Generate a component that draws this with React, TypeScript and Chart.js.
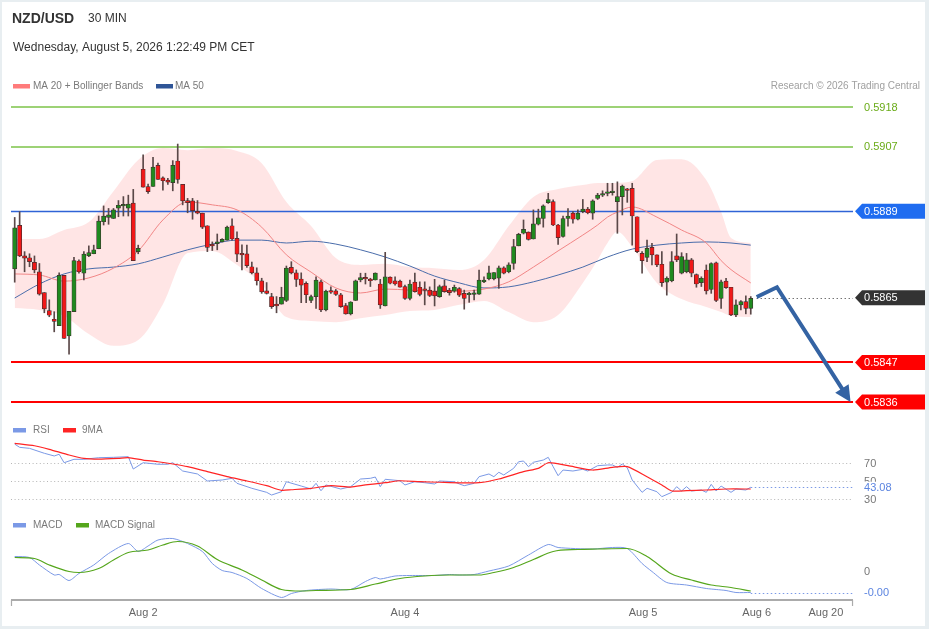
import React, { useEffect, useRef } from "react";
import { Chart, registerables } from "chart.js";

Chart.register(...registerables);

// ---------------- data ----------------
const OPEN = [
  0.5873, 0.58851, 0.58766, 0.58761, 0.58748, 0.58722, 0.58664, 0.58614, 0.5859, 0.58572,
  0.58712, 0.58544, 0.58611, 0.58752, 0.58718, 0.58766, 0.58772, 0.58786, 0.58861, 0.58873,
  0.5887, 0.58899, 0.58905, 0.58899, 0.58913, 0.58778, 0.59007, 0.58959, 0.58959, 0.59018,
  0.58983, 0.58977, 0.5897, 0.5903, 0.58965, 0.5892, 0.58919, 0.5889, 0.58885, 0.5885,
  0.58798, 0.588, 0.58805, 0.5881, 0.5885, 0.58815, 0.58773, 0.58772, 0.58736, 0.58719,
  0.58697, 0.58669, 0.58653, 0.58632, 0.58632, 0.58642, 0.58734, 0.58719, 0.58702, 0.5869,
  0.58642, 0.58653, 0.58694, 0.58616, 0.58668, 0.58669, 0.58658, 0.58628, 0.58605, 0.58642,
  0.58699, 0.58705, 0.58701, 0.58699, 0.58688, 0.58627, 0.58707, 0.58697, 0.58696, 0.58681,
  0.58648, 0.58693, 0.58679, 0.58673, 0.58671, 0.58668, 0.58653, 0.58683, 0.58671, 0.58668,
  0.58675, 0.58662, 0.58658, 0.58659, 0.5866, 0.58694, 0.58702, 0.58702, 0.58704, 0.58733,
  0.58722, 0.58745, 0.58794, 0.58829, 0.58832, 0.58813, 0.58854, 0.5887, 0.58914, 0.58917,
  0.58852, 0.5882, 0.5887, 0.58885, 0.58868, 0.58889, 0.58896, 0.58885, 0.58926, 0.58935,
  0.5894, 0.58942, 0.58917, 0.58931, 0.58951, 0.58954, 0.58875, 0.58773, 0.58762, 0.5879,
  0.58769, 0.58743, 0.58693, 0.58697, 0.58766, 0.58718, 0.58722, 0.58755, 0.58714, 0.58692,
  0.58727, 0.58673, 0.58747, 0.58648, 0.58696, 0.58679, 0.58602, 0.5863, 0.58639, 0.5862,
];
const HIGH = [
  0.58873, 0.58889, 0.58778, 0.58772, 0.58766, 0.58745, 0.58664, 0.58644, 0.58611, 0.58719,
  0.58712, 0.58612, 0.58762, 0.58755, 0.58778, 0.58794, 0.58796, 0.58877, 0.58905, 0.58898,
  0.58898, 0.5892, 0.58931, 0.58935, 0.58951, 0.58796, 0.59047, 0.58966, 0.5904, 0.59024,
  0.58986, 0.58982, 0.59031, 0.59077, 0.58965, 0.58926, 0.58926, 0.5892, 0.58885, 0.5885,
  0.58805, 0.58827, 0.58814, 0.58849, 0.58869, 0.58833, 0.58797, 0.58796, 0.58749, 0.58733,
  0.58704, 0.58692, 0.58662, 0.58653, 0.58679, 0.58738, 0.5875, 0.58727, 0.58719, 0.58694,
  0.58657, 0.58708, 0.58699, 0.58671, 0.5868, 0.58673, 0.58662, 0.58634, 0.58639, 0.58699,
  0.58718, 0.58718, 0.58704, 0.58719, 0.58701, 0.58776, 0.58708, 0.58708, 0.58699, 0.58685,
  0.58699, 0.58718, 0.58694, 0.58694, 0.5868, 0.58701, 0.58685, 0.58699, 0.58676, 0.58685,
  0.58678, 0.58671, 0.58665, 0.58671, 0.58727, 0.58708, 0.58738, 0.5872, 0.58738, 0.58736,
  0.58747, 0.58812, 0.58829, 0.58866, 0.58833, 0.58894, 0.58896, 0.58908, 0.5894, 0.58922,
  0.58854, 0.58877, 0.58898, 0.58889, 0.58894, 0.58923, 0.58901, 0.58922, 0.5894, 0.58947,
  0.58968, 0.58968, 0.58972, 0.58963, 0.58954, 0.58968, 0.58875, 0.58778, 0.5881, 0.58801,
  0.58769, 0.58778, 0.58708, 0.58778, 0.58827, 0.58775, 0.58773, 0.58759, 0.58716, 0.58708,
  0.58741, 0.58747, 0.58749, 0.58699, 0.58704, 0.58679, 0.58644, 0.58642, 0.58655, 0.58653,
];
const LOW = [
  0.58693, 0.58764, 0.58722, 0.58736, 0.58719, 0.58657, 0.58608, 0.58597, 0.58555, 0.58572,
  0.58537, 0.58493, 0.58611, 0.58718, 0.58699, 0.58764, 0.58772, 0.58786, 0.58852, 0.58854,
  0.5887, 0.58875, 0.58877, 0.58877, 0.58753, 0.58772, 0.58957, 0.5894, 0.58959, 0.58979,
  0.58949, 0.58965, 0.58947, 0.58968, 0.58908, 0.58886, 0.58868, 0.58883, 0.58842, 0.58778,
  0.58781, 0.58783, 0.58805, 0.5881, 0.5881, 0.5875, 0.58727, 0.58734, 0.58716, 0.58685,
  0.58662, 0.5866, 0.5862, 0.58608, 0.58632, 0.58639, 0.58716, 0.58681, 0.58636, 0.58636,
  0.58636, 0.5862, 0.58611, 0.58613, 0.58662, 0.58656, 0.58623, 0.58604, 0.58602, 0.58642,
  0.58694, 0.58688, 0.58681, 0.58699, 0.5862, 0.58627, 0.58688, 0.58685, 0.58679, 0.58645,
  0.58644, 0.58665, 0.58655, 0.5863, 0.58653, 0.58627, 0.58651, 0.58665, 0.58657, 0.58665,
  0.58653, 0.58618, 0.58637, 0.58644, 0.58659, 0.58692, 0.58699, 0.58699, 0.58676, 0.58716,
  0.58719, 0.58729, 0.58794, 0.58827, 0.5881, 0.58813, 0.58852, 0.58846, 0.58912, 0.5885,
  0.58798, 0.58818, 0.58849, 0.58857, 0.58866, 0.58886, 0.58883, 0.58868, 0.58923, 0.58931,
  0.58933, 0.58935, 0.58829, 0.5888, 0.58915, 0.58796, 0.58775, 0.58718, 0.5875, 0.58741,
  0.58736, 0.58681, 0.58657, 0.58694, 0.5875, 0.58716, 0.58719, 0.58708, 0.58679, 0.58681,
  0.5866, 0.58662, 0.58639, 0.5862, 0.58676, 0.586, 0.58597, 0.58616, 0.58605, 0.58604,
];
const CLOSE = [
  0.58844, 0.58766, 0.5876, 0.5875, 0.58727, 0.5866, 0.58619, 0.58601, 0.58584, 0.58712,
  0.58537, 0.58612, 0.58753, 0.58722, 0.58771, 0.58775, 0.58783, 0.58863, 0.58877, 0.5888,
  0.58894, 0.58907, 0.58906, 0.5891, 0.58753, 0.58787, 0.58957, 0.58945, 0.59013, 0.58979,
  0.58975, 0.58971, 0.59018, 0.58979, 0.58919, 0.58914, 0.58892, 0.58885, 0.58846, 0.5879,
  0.58794, 0.58805, 0.58812, 0.58846, 0.58813, 0.58771, 0.58769, 0.58739, 0.58719, 0.58697,
  0.58666, 0.58662, 0.58625, 0.58627, 0.58651, 0.58732, 0.58719, 0.58701, 0.58685, 0.58658,
  0.58653, 0.58699, 0.58616, 0.58668, 0.58665, 0.58659, 0.58625, 0.58605, 0.58638, 0.58697,
  0.58706, 0.58702, 0.58697, 0.58718, 0.5863, 0.58708, 0.5869, 0.58688, 0.58679, 0.58648,
  0.58688, 0.58667, 0.58659, 0.5867, 0.58656, 0.58655, 0.58681, 0.58667, 0.58664, 0.58679,
  0.58657, 0.58648, 0.58661, 0.58662, 0.58699, 0.58699, 0.58719, 0.5872, 0.58733, 0.58718,
  0.58741, 0.58792, 0.58826, 0.5884, 0.58812, 0.58855, 0.58872, 0.58905, 0.58923, 0.58852,
  0.58817, 0.5887, 0.58877, 0.58868, 0.58885, 0.58896, 0.58886, 0.58919, 0.58935, 0.58938,
  0.58943, 0.58945, 0.58931, 0.5896, 0.58948, 0.58877, 0.58778, 0.58753, 0.58787, 0.58769,
  0.58741, 0.58692, 0.58704, 0.5875, 0.58755, 0.58764, 0.58755, 0.58718, 0.58688, 0.58704,
  0.58669, 0.58745, 0.58642, 0.58694, 0.58678, 0.58602, 0.5863, 0.58639, 0.5862, 0.58648,
];

// Bollinger bands + MA 20 (sampled at candle indices)
const BAND_X = [0, 5, 10, 15, 20, 25, 30, 35, 40, 45, 50, 55, 60, 65, 70, 75, 80, 85, 90, 95, 100, 105, 110, 115, 118, 120, 122, 125, 130, 135, 140, 143, 145, 149];
const BB_UPPER = [0.58813, 0.58813, 0.58838, 0.5886, 0.58946, 0.59033, 0.59066, 0.5906, 0.59066, 0.59058, 0.59024, 0.58916, 0.58849, 0.5876, 0.58741, 0.58744, 0.58735, 0.58732, 0.58727, 0.58755, 0.58849, 0.5893, 0.58952, 0.58963, 0.58969, 0.58969, 0.58969, 0.58974, 0.59033, 0.59035, 0.58977, 0.58888, 0.58816, 0.58802];
const BB_LOWER = [0.58621, 0.58616, 0.58599, 0.58549, 0.58516, 0.58532, 0.58632, 0.58774, 0.5878, 0.58741, 0.58688, 0.58596, 0.58585, 0.58582, 0.58593, 0.58602, 0.58613, 0.58616, 0.5863, 0.58641, 0.5861, 0.58582, 0.58602, 0.58691, 0.58755, 0.58802, 0.58833, 0.58791, 0.58691, 0.58646, 0.58624, 0.5861, 0.58599, 0.58596];
const MA20 = [0.58716, 0.58713, 0.58696, 0.58705, 0.58732, 0.5878, 0.58866, 0.58916, 0.58908, 0.58894, 0.58846, 0.58769, 0.58721, 0.58677, 0.58663, 0.58674, 0.58671, 0.58668, 0.58668, 0.58674, 0.58694, 0.58735, 0.5878, 0.58824, 0.58852, 0.58874, 0.58888, 0.58902, 0.58874, 0.58838, 0.58802, 0.58753, 0.58728, 0.58691];

const MA50_X = [0, 5, 10, 15, 20, 25, 30, 35, 40, 45, 50, 55, 60, 65, 70, 75, 80, 85, 90, 95, 100, 105, 110, 115, 120, 125, 130, 135, 140, 145, 149];
const MA50 = [0.58649, 0.58688, 0.58716, 0.5873, 0.58735, 0.58744, 0.58763, 0.58783, 0.58799, 0.5881, 0.5881, 0.58802, 0.58807, 0.58799, 0.58783, 0.58763, 0.58738, 0.5871, 0.58691, 0.58677, 0.5868, 0.58694, 0.58713, 0.58735, 0.58763, 0.58785, 0.58796, 0.58802, 0.58805, 0.58802, 0.58796];

// RSI panel
const RSI_X = [0, 1, 3, 6, 8, 9, 10, 12, 14, 17, 20, 23, 24, 26, 29, 31, 32, 34, 37, 39, 42, 44, 45, 48, 51, 52, 54, 55, 58, 60, 61, 62, 63, 66, 68, 70, 72, 73, 74, 75, 78, 79, 81, 83, 85, 86, 89, 90, 91, 93, 94, 96, 97, 98, 99, 101, 102, 103, 104, 105, 107, 108, 109, 110, 111, 113, 115, 116, 118, 120, 121, 122, 123, 124, 125, 127, 128, 130, 131, 133, 134, 135, 136, 137, 139, 140, 141, 142, 143, 145, 146, 148, 149];
const RSI_V = [91.0, 87.4, 86.3, 80.8, 77.8, 79.7, 70.3, 74.1, 74.1, 75.9, 76.3, 77.0, 63.3, 70.3, 68.6, 68.6, 70.3, 61.1, 57.8, 50.0, 51.1, 53.0, 47.4, 41.9, 37.4, 34.4, 38.1, 49.2, 44.4, 41.1, 47.4, 39.2, 45.6, 41.1, 43.7, 52.2, 53.0, 54.4, 43.7, 51.9, 50.3, 45.6, 49.2, 48.1, 46.7, 50.0, 49.2, 46.7, 44.8, 47.4, 54.8, 57.8, 54.8, 59.7, 56.7, 64.1, 71.4, 72.2, 65.9, 70.8, 73.3, 76.3, 65.9, 55.9, 62.2, 61.1, 63.0, 61.1, 67.0, 67.8, 67.8, 65.2, 68.9, 64.8, 51.1, 37.4, 41.9, 38.1, 32.6, 37.4, 43.7, 38.9, 43.7, 38.9, 40.0, 37.4, 46.3, 38.9, 44.4, 37.4, 41.1, 40.0, 43.08];
const RSI_MA_X = [0, 4, 7, 11, 14, 17, 21, 23, 26, 29, 32, 35, 39, 43, 47, 51, 54, 56, 60, 64, 68, 71, 75, 78, 82, 86, 90, 94, 98, 103, 106, 108, 112, 117, 121, 124, 128, 131, 133, 136, 140, 144, 149];
const RSI_MA_V = [91.9, 89.2, 85.2, 78.9, 75.2, 74.4, 75.2, 75.9, 73.3, 71.4, 68.9, 65.9, 60.4, 54.8, 50.0, 44.8, 39.6, 40.3, 41.9, 44.8, 43.3, 45.6, 48.1, 50.3, 49.2, 48.6, 48.0, 48.1, 52.2, 60.4, 64.1, 70.3, 67.0, 62.2, 65.2, 65.9, 54.8, 45.6, 38.9, 39.2, 40.0, 41.1, 41.1];
const RSI_LEVELS = [70, 50, 30];

// MACD panel
const MACD_X = [0, 3, 5, 8, 9, 11, 13, 16, 19, 23, 25, 27, 29, 32, 35, 38, 40, 42, 44, 47, 50, 54, 56, 59, 64, 68, 71, 73, 74, 77, 80, 85, 88, 90, 93, 96, 100, 104, 108, 110, 117, 121, 124, 127, 129, 132, 136, 140, 142, 144, 146, 149];
const MACD_V = [0.00029, 0.00027, 0.00012, -0.00008, -0.00007, -0.00019, -0.00005, 0.00012, 0.00035, 0.00055, 0.00039, 0.0005, 0.00062, 0.00065, 0.00055, 0.00039, 0.00015, 0.00001, -0.00003, -0.00015, -0.00035, -0.00053, -0.00045, -0.00039, -0.00036, -0.00037, -0.00021, -0.00013, -0.00016, -0.0001, -0.00009, -0.00009, -0.00007, -0.00008, -0.00007, 0.0, 0.0001, 0.00032, 0.00053, 0.00047, 0.00044, 0.00047, 0.00045, 0.00015, -0.00001, -0.00023, -0.00028, -0.00035, -0.00037, -0.00039, -0.00043, -0.00043];
const SIGNAL_X = [0, 4, 7, 11, 13, 17, 20, 23, 27, 30, 33, 37, 41, 46, 50, 54, 58, 61, 68, 73, 78, 83, 88, 94, 97, 101, 105, 109, 114, 118, 124, 128, 133, 137, 141, 145, 149];
const SIGNAL_V = [0.00027, 0.00025, 0.00012, -0.00001, -0.00003, 0.00005, 0.00022, 0.00037, 0.00042, 0.00052, 0.00059, 0.0005, 0.00023, 0.00002, -0.00018, -0.00037, -0.0004, -0.00039, -0.00037, -0.00026, -0.00015, -0.0001, -0.00008, -0.00008, -0.00003, 0.00007, 0.00023, 0.00039, 0.00043, 0.00044, 0.00045, 0.00029, -0.00006, -0.00018, -0.00028, -0.00033, -0.0004];

// levels and forecast
const RESISTANCE_LEVELS = [0.5918, 0.5907];
const PIVOT_LEVEL = 0.5889;
const SUPPORT_LEVELS = [0.5847, 0.5836];
const LAST_PRICE = 0.5865;
const ARROW_X = [150.2, 154.3, 169.2];
const ARROW_Y = [0.58652, 0.58679, 0.5836];

// x axis ticks (candle index positions)
const X_TICK_POS = [26, 79, 127.2, 150.2, 164.2];
const X_TICK_LABELS = ["Aug 2", "Aug 4", "Aug 5", "Aug 6", "Aug 20"];

// texts
const TITLE = "NZD/USD";
const TIMEFRAME = "30 MIN";
const DATE_TEXT = "Wednesday, August 5, 2026 1:22:49 PM CET";
const CREDIT = "Research \u00A9 2026 Trading Central";
const LEGEND_MAIN = ["MA 20 + Bollinger Bands", "MA 50"];
const LEGEND_RSI = ["RSI", "9MA"];
const LEGEND_MACD = ["MACD", "MACD Signal"];

// ---------------- layout (scale windows) ----------------
const X_MIN = -2.976;
const X_MAX = 185.08;
const PLOT_START = -0.75;
const PLOT_END = 169.7;
const PRICE_MIN = 0.577289;
const PRICE_MAX = 0.594775;
const RSI_MIN = -114.44;
const RSI_MAX = 584.44;
const MACD_MIN = -0.00116;
const MACD_MAX = 0.01142;

const FONT = "'Liberation Sans', Arial, Helvetica, sans-serif";
const C_GREEN_CANDLE = "#1f8a1f";
const C_RED_CANDLE = "#f01818";
const C_CANDLE_EDGE = "#3f2e2e";
const C_WICK = "#5a4848";
const C_RSI = "#7b99e6";
const C_RSI_MA = "#ff2424";
const C_MACD = "#7b99e6";
const C_SIGNAL = "#55a61c";
const C_MA20 = "#f28686";
const C_MA50 = "#4a6dab";
const C_RES_LINE = "#7cc349";

const zip = (xs: number[], ys: number[]) => xs.map((x, i) => ({ x, y: ys[i] }));

function hline(ctx: CanvasRenderingContext2D, x1: number, x2: number, y: number, color: string, width: number, dash?: number[]) {
  ctx.save();
  ctx.strokeStyle = color;
  ctx.lineWidth = width;
  if (dash) ctx.setLineDash(dash);
  ctx.beginPath();
  ctx.moveTo(x1, y);
  ctx.lineTo(x2, y);
  ctx.stroke();
  ctx.restore();
}

function txt(ctx: CanvasRenderingContext2D, s: string, x: number, y: number, font: string, color: string, align: CanvasTextAlign = "left") {
  ctx.save();
  ctx.font = font;
  ctx.fillStyle = color;
  ctx.textAlign = align;
  ctx.textBaseline = "middle";
  ctx.fillText(s, x, y);
  ctx.restore();
}

function tag(ctx: CanvasRenderingContext2D, xTip: number, y: number, s: string, bg: string, fg: string) {
  const h = 15;
  const notch = 7;
  const right = 925;
  ctx.save();
  ctx.fillStyle = bg;
  ctx.beginPath();
  ctx.moveTo(xTip, y);
  ctx.lineTo(xTip + notch, y - h / 2);
  ctx.lineTo(right, y - h / 2);
  ctx.lineTo(right, y + h / 2);
  ctx.lineTo(xTip + notch, y + h / 2);
  ctx.closePath();
  ctx.fill();
  ctx.restore();
  txt(ctx, s, xTip + 9, y + 0.5, `11px ${FONT}`, fg);
}

function swatch(ctx: CanvasRenderingContext2D, x: number, y: number, w: number, color: string) {
  ctx.save();
  ctx.fillStyle = color;
  ctx.fillRect(x, y - 2, w, 4.5);
  ctx.restore();
}

const decorPlugin = {
  id: "decor",
  beforeDraw(chart: any) {
    const { ctx, width, height } = chart;
    ctx.save();
    ctx.fillStyle = "#e8eef1";
    ctx.fillRect(0, 0, width, height);
    ctx.fillStyle = "#ffffff";
    ctx.fillRect(2, 2, 923, 624);
    ctx.restore();
  },
  afterDatasetDraw(chart: any, args: any) {
    if (args.index !== 1) return;
    const { ctx } = chart;
    const sx = chart.scales.x, sy = chart.scales.y, sr = chart.scales.rsi;
    const x1 = sx.getPixelForValue(PLOT_START);
    const x2 = sx.getPixelForValue(PLOT_END);
    RESISTANCE_LEVELS.forEach((v) => hline(ctx, x1, x2, Math.round(sy.getPixelForValue(v)), C_RES_LINE, 1.4));
    hline(ctx, x1, x2, Math.round(sy.getPixelForValue(PIVOT_LEVEL)) + 0.5, "#2f63d6", 1.3);
    SUPPORT_LEVELS.forEach((v) => hline(ctx, x1, x2, Math.round(sy.getPixelForValue(v)), "#ff0000", 2));
    RSI_LEVELS.forEach((v) => hline(ctx, x1, x2, Math.round(sr.getPixelForValue(v)) + 0.5, "#b5b5b5", 1, [1, 2.6]));
  },
  afterDraw(chart: any) {
    const { ctx } = chart;
    const sx = chart.scales.x, sy = chart.scales.y, sr = chart.scales.rsi, sm = chart.scales.macd;
    const x1 = sx.getPixelForValue(PLOT_START);
    const x2 = sx.getPixelForValue(PLOT_END);
    const labelX = x2 + 11;
    const tipX = x2 + 2;

    // header
    txt(ctx, TITLE, 12, 19, `bold 14px ${FONT}`, "#333333");
    txt(ctx, TIMEFRAME, 88, 19, `12px ${FONT}`, "#333333");
    txt(ctx, DATE_TEXT, 13, 48, `12px ${FONT}`, "#333333");

    // legends
    const lf = `10px ${FONT}`;
    const lc = "#7a7a7a";
    swatch(ctx, 13, 86, 17, "#ff7b7b");
    txt(ctx, LEGEND_MAIN[0], 33, 86, lf, lc);
    swatch(ctx, 156, 86, 17, "#2f5597");
    txt(ctx, LEGEND_MAIN[1], 175, 86, lf, lc);
    txt(ctx, CREDIT, 920, 86, lf, "#a0a0a0", "right");

    swatch(ctx, 13, 430, 13, C_RSI);
    txt(ctx, LEGEND_RSI[0], 33, 430, lf, lc);
    swatch(ctx, 63, 430, 13, C_RSI_MA);
    txt(ctx, LEGEND_RSI[1], 82, 430, lf, lc);

    swatch(ctx, 13, 525, 13, C_MACD);
    txt(ctx, LEGEND_MACD[0], 33, 525, lf, lc);
    swatch(ctx, 76, 525, 13, C_SIGNAL);
    txt(ctx, LEGEND_MACD[1], 95, 525, lf, lc);

    // price labels
    const pf = `11px ${FONT}`;
    RESISTANCE_LEVELS.forEach((v) => txt(ctx, v.toFixed(4), labelX, sy.getPixelForValue(v) + 0.5, pf, "#6aab18"));
    tag(ctx, tipX, sy.getPixelForValue(PIVOT_LEVEL), PIVOT_LEVEL.toFixed(4), "#1f6cf0", "#ffffff");
    SUPPORT_LEVELS.forEach((v) => tag(ctx, tipX, sy.getPixelForValue(v), v.toFixed(4), "#ff0000", "#ffffff"));

    // last price dotted + tag
    const lastY = Math.round(sy.getPixelForValue(LAST_PRICE)) + 0.5;
    hline(ctx, sx.getPixelForValue(ARROW_X[0]), x2, lastY, "#333333", 1, [1, 3]);
    tag(ctx, tipX, sy.getPixelForValue(LAST_PRICE), LAST_PRICE.toFixed(4), "#333333", "#ffffff");

    // RSI labels
    RSI_LEVELS.forEach((v) => txt(ctx, String(v), labelX, sr.getPixelForValue(v) + 0.5, pf, "#777777"));
    const rsiLast = RSI_V[RSI_V.length - 1];
    const rsiY = sr.getPixelForValue(rsiLast);
    hline(ctx, sx.getPixelForValue(RSI_X[RSI_X.length - 1]), x2, Math.round(rsiY) + 0.5, C_RSI, 1, [1.5, 2.5]);
    ctx.save();
    ctx.fillStyle = "#ffffff";
    ctx.fillRect(labelX - 1, rsiY - 5.5, 34, 13);
    ctx.restore();
    txt(ctx, rsiLast.toFixed(2), labelX, rsiY + 0.5, pf, "#5b84e0");

    // MACD labels
    txt(ctx, "0", labelX, sm.getPixelForValue(0) + 0.5, pf, "#777777");
    const macdLast = MACD_V[MACD_V.length - 1];
    const macdY = sm.getPixelForValue(macdLast);
    hline(ctx, sx.getPixelForValue(MACD_X[MACD_X.length - 1]), x2, Math.round(macdY) + 0.5, C_MACD, 1, [1.5, 2.5]);
    txt(ctx, macdLast.toFixed(2), labelX, macdY + 0.5, pf, "#5b84e0");

    // x axis
    const axisY = 600;
    hline(ctx, x1, x2, axisY, "#ababab", 2);
    ctx.save();
    ctx.strokeStyle = "#ababab";
    ctx.lineWidth = 1.2;
    ctx.beginPath();
    ctx.moveTo(x1 + 0.5, axisY);
    ctx.lineTo(x1 + 0.5, axisY + 6);
    ctx.moveTo(x2 - 0.5, axisY);
    ctx.lineTo(x2 - 0.5, axisY + 6);
    ctx.stroke();
    ctx.restore();
    X_TICK_POS.forEach((p, i) => txt(ctx, X_TICK_LABELS[i], sx.getPixelForValue(p), 613, pf, "#666666", "center"));

    // forecast arrow
    const pts = ARROW_X.map((x, i) => ({ x: sx.getPixelForValue(x), y: sy.getPixelForValue(ARROW_Y[i]) }));
    const tip = pts[2], prev = pts[1];
    const dx = tip.x - prev.x, dy = tip.y - prev.y;
    const len = Math.hypot(dx, dy);
    const ux = dx / len, uy = dy / len;
    const headLen = 16, headW = 8;
    const bx = tip.x - ux * headLen, by = tip.y - uy * headLen;
    ctx.save();
    ctx.strokeStyle = "#3463a3";
    ctx.fillStyle = "#3463a3";
    ctx.lineWidth = 4;
    ctx.lineJoin = "miter";
    ctx.beginPath();
    ctx.moveTo(pts[0].x, pts[0].y);
    ctx.lineTo(pts[1].x, pts[1].y);
    ctx.lineTo(bx + ux * 2, by + uy * 2);
    ctx.stroke();
    ctx.beginPath();
    ctx.moveTo(tip.x, tip.y);
    ctx.lineTo(bx - uy * headW, by + ux * headW);
    ctx.lineTo(bx + uy * headW, by - ux * headW);
    ctx.closePath();
    ctx.fill();
    ctx.restore();
  },
};

export default function App() {
  const ref = useRef<HTMLCanvasElement>(null);

  useEffect(() => {
    const canvas = ref.current;
    if (!canvas) return;
    const idx = CLOSE.map((_, i) => i);
    const lineBase = { type: "line" as const, pointRadius: 0, pointHoverRadius: 0, fill: false };
    const chart = new Chart(canvas, {
      type: "bar",
      data: {
        datasets: [
          {
            ...lineBase,
            label: "BB upper",
            data: zip(BAND_X, BB_UPPER),
            yAxisID: "y",
            borderWidth: 0,
            borderColor: "rgba(0,0,0,0)",
            cubicInterpolationMode: "monotone",
            order: 20,
          },
          {
            ...lineBase,
            label: "BB lower",
            data: zip(BAND_X, BB_LOWER),
            yAxisID: "y",
            borderWidth: 0,
            borderColor: "rgba(0,0,0,0)",
            fill: "-1",
            backgroundColor: "rgba(255, 40, 40, 0.12)",
            cubicInterpolationMode: "monotone",
            order: 19,
          },
          {
            ...lineBase,
            label: "MA 50",
            data: zip(MA50_X, MA50),
            yAxisID: "y",
            borderColor: C_MA50,
            borderWidth: 1,
            cubicInterpolationMode: "monotone",
            order: 18,
          },
          {
            ...lineBase,
            label: "MA 20",
            data: zip(BAND_X, MA20),
            yAxisID: "y",
            borderColor: C_MA20,
            borderWidth: 1,
            cubicInterpolationMode: "monotone",
            order: 17,
          },
          {
            type: "bar",
            label: "wick",
            data: idx.map((i) => ({ x: i, y: [LOW[i], HIGH[i]] })) as any,
            yAxisID: "y",
            backgroundColor: C_WICK,
            barThickness: 1,
            grouped: false,
            order: 16,
          },
          {
            type: "bar",
            label: "body",
            data: idx.map((i) => ({ x: i, y: [OPEN[i], CLOSE[i]] })) as any,
            yAxisID: "y",
            backgroundColor: (c: any) => (CLOSE[c.dataIndex] >= OPEN[c.dataIndex] ? C_GREEN_CANDLE : C_RED_CANDLE),
            borderColor: C_CANDLE_EDGE,
            borderWidth: 0.7,
            borderSkipped: false,
            barThickness: 4.2,
            minBarLength: 1.6,
            grouped: false,
            order: 15,
          },
          {
            ...lineBase,
            label: "RSI",
            data: zip(RSI_X, RSI_V),
            yAxisID: "rsi",
            borderColor: C_RSI,
            borderWidth: 1,
            tension: 0,
            order: 14,
          },
          {
            ...lineBase,
            label: "9MA",
            data: zip(RSI_MA_X, RSI_MA_V),
            yAxisID: "rsi",
            borderColor: C_RSI_MA,
            borderWidth: 1.2,
            tension: 0.2,
            order: 13,
          },
          {
            ...lineBase,
            label: "MACD",
            data: zip(MACD_X, MACD_V),
            yAxisID: "macd",
            borderColor: C_MACD,
            borderWidth: 1,
            tension: 0.25,
            order: 12,
          },
          {
            ...lineBase,
            label: "MACD Signal",
            data: zip(SIGNAL_X, SIGNAL_V),
            yAxisID: "macd",
            borderColor: C_SIGNAL,
            borderWidth: 1.2,
            cubicInterpolationMode: "monotone",
            order: 11,
          },
        ] as any,
      },
      options: {
        animation: false,
        responsive: false,
        events: [],
        layout: { padding: 0 },
        plugins: {
          legend: { display: false },
          tooltip: { enabled: false },
          title: { display: false },
        },
        scales: {
          x: { type: "linear", min: X_MIN, max: X_MAX, display: false, offset: false },
          y: { type: "linear", axis: "y", min: PRICE_MIN, max: PRICE_MAX, display: false },
          rsi: { type: "linear", axis: "y", min: RSI_MIN, max: RSI_MAX, display: false },
          macd: { type: "linear", axis: "y", min: MACD_MIN, max: MACD_MAX, display: false },
        } as any,
      },
      plugins: [decorPlugin],
    });
    return () => chart.destroy();
  }, []);

  return (
    <div style={{ position: "fixed", left: 0, top: 0, width: 929, height: 629, background: "#ffffff" }}>
      <canvas ref={ref} width={929} height={629} style={{ display: "block", width: 929, height: 629 }} />
    </div>
  );
}
